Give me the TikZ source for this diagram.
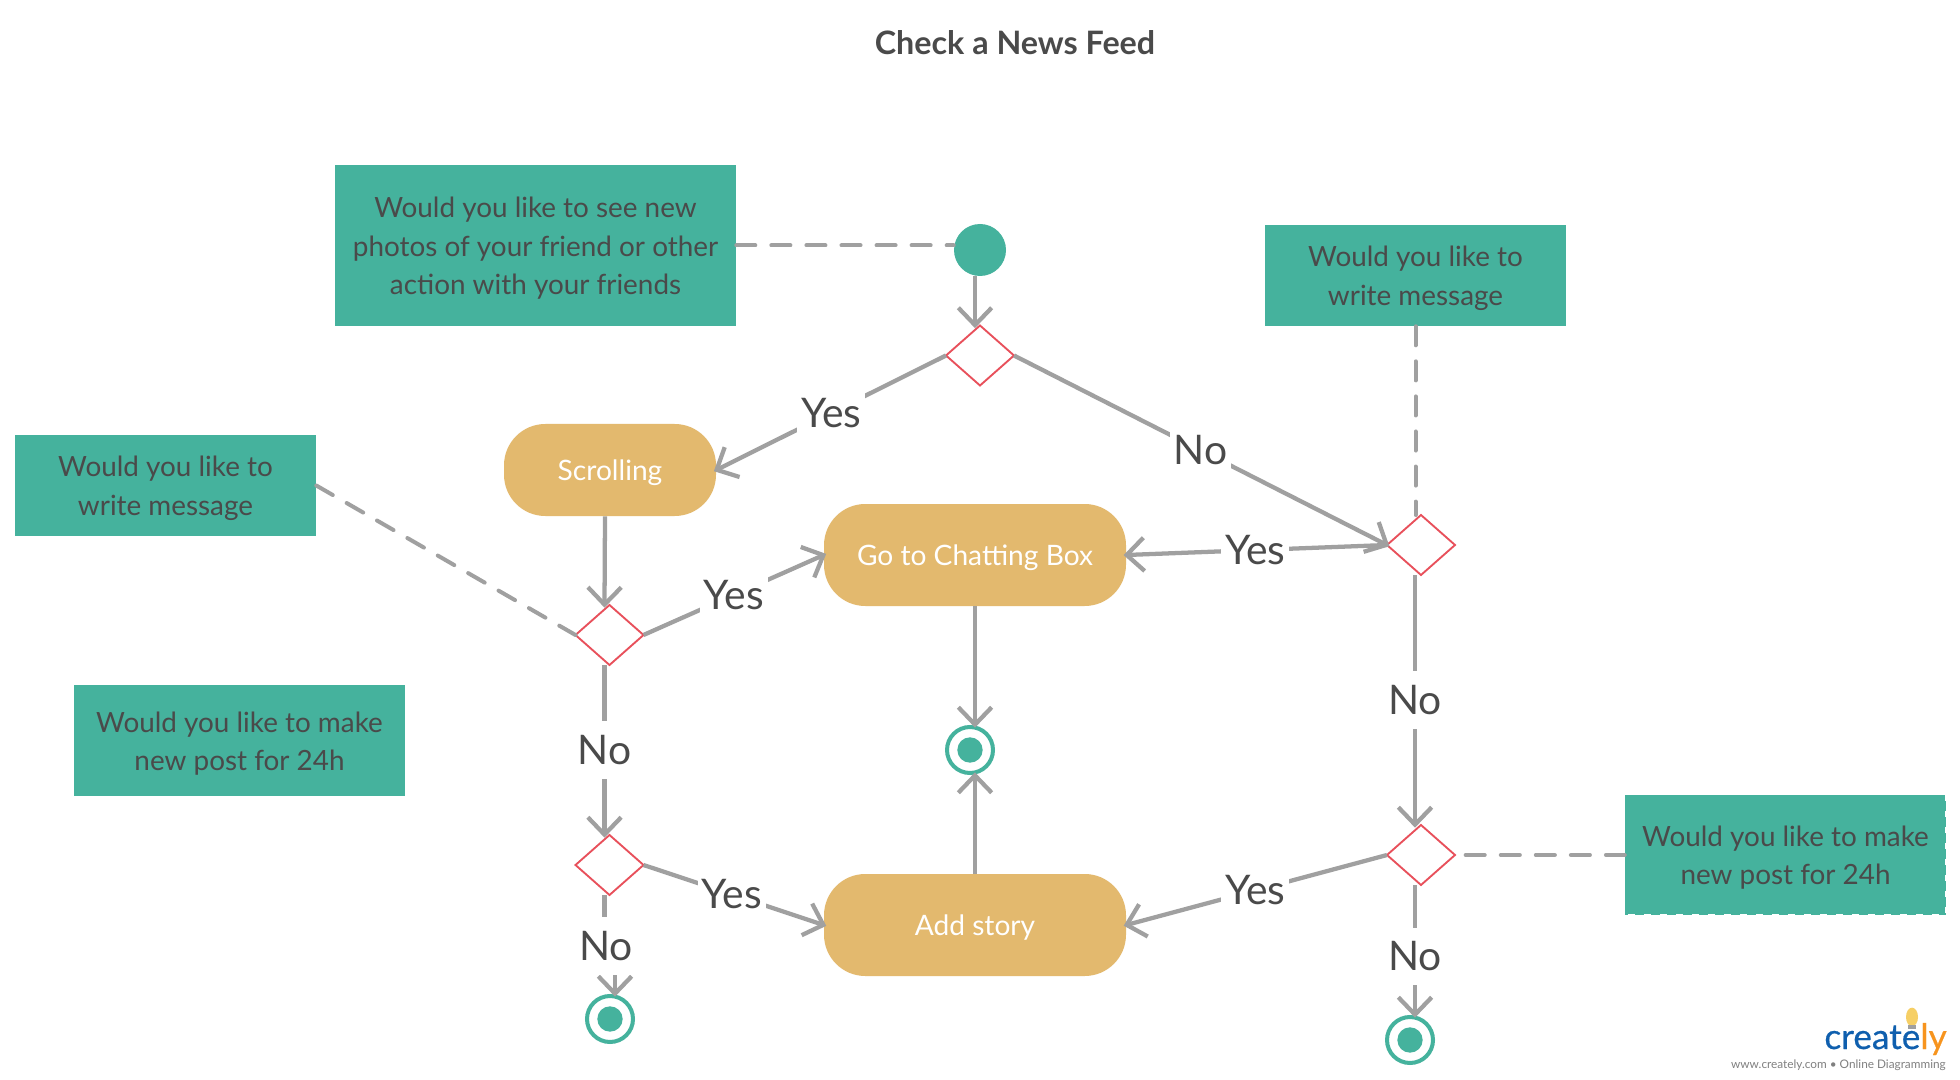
\documentclass[tikz,border=0pt]{standalone}
\usepackage{fontspec}
\setmainfont{Lato}
\newfontfamily\logofont[FakeBold=0.5]{Lato}
\usetikzlibrary{arrows.meta,shapes.geometric}
\definecolor{tealbox}{HTML}{45B29D}
\definecolor{linegray}{HTML}{A0A0A0}
\definecolor{redline}{HTML}{E8505B}
\definecolor{orangebox}{HTML}{E3B96E}
\definecolor{textgray}{HTML}{4A4A4A}
\definecolor{logoblue}{HTML}{0F5FAE}
\definecolor{logoorange}{HTML}{F7941E}
\definecolor{logobulb}{HTML}{F6CF65}
\newcommand{\topstrut}{\rule{0pt}{19.5pt}}
\tikzset{
    >={Straight Barb[length=13pt,width=25pt]},
    note/.style={
        rectangle,
        fill=tealbox,
        text=textgray,
        align=center,
        inner sep=0pt,
        font=\fontsize{20.9}{28.6}\selectfont
    },
    activity/.style={
        rectangle,
        rounded corners=31pt,
        fill=orangebox,
        text=white,
        align=center,
        inner sep=0pt,
        font=\fontsize{21.1}{24}\selectfont
    },
    choice/.style={
        diamond,
        draw=redline,
        line width=1.4pt,
        fill=white,
        inner sep=0pt,
        outer sep=0pt,
        minimum width=51pt,
        minimum height=45pt
    },
    startdot/.style={
        circle,
        fill=tealbox,
        inner sep=0pt,
        minimum size=39pt
    },
    finish/.style={
        circle,
        draw=tealbox,
        line width=3pt,
        fill=white,
        inner sep=0pt,
        minimum size=34.5pt,
        path picture={\fill[tealbox] (path picture bounding box.center) circle (9.5pt);}
    },
    plainline/.style={draw=linegray, line width=3.2pt},
    line/.style={plainline, ->, shorten >=-2pt},
    link/.style={draw=linegray, line width=3pt, line cap=round,
        dash pattern=on 14.3pt off 12pt},
    answertext/.style={
        fill=white,
        text=textgray,
        inner xsep=3pt,
        inner ysep=0pt,
        minimum height=43pt,
        font=\fontsize{30.6}{32}\selectfont
    },
    answer/.style={answertext, midway}
}
\begin{document}
\begin{tikzpicture}[x=0.75pt,y=-0.75pt]
    \useasboundingbox[fill=white] (0,0) rectangle (1960,1080);

    \node[text=textgray,font=\fontsize{24.2}{28}\selectfont\bfseries] (title) at (1015,43) {Check a News Feed};

    % notes
    \node[note,minimum width=300.75pt,minimum height=120.75pt] (noteFriends) at (535.5,245.5)
        {\topstrut Would you like to see new\\photos of your friend or other\\action with your friends};
    \node[note,minimum width=225.75pt,minimum height=75.75pt] (noteRight) at (1415.5,275.5)
        {\topstrut Would you like to\\write message};
    \node[note,minimum width=225.75pt,minimum height=75.75pt] (noteLeft) at (165.5,485.5)
        {\topstrut Would you like to\\write message};
    \node[note,minimum width=248.25pt,minimum height=83.25pt] (notePost) at (239.5,740.5)
        {\topstrut Would you like to make\\new post for 24h};
    \node[note,minimum width=240.75pt,minimum height=90pt] (notePostRight) at (1785.5,855)
        {\topstrut Would you like to make\\new post for 24h};
    \draw[white,line width=2pt,dash pattern=on 5pt off 7pt] (notePostRight.north east)
        -- (notePostRight.south east) -- (notePostRight.south west);

    % activities
    \node[activity,minimum width=159pt,minimum height=69pt] (scrolling) at (610,470) {\topstrut Scrolling};
    \node[activity,minimum width=226.5pt,minimum height=76.5pt] (chatting) at (975,555) {\topstrut Go to Chatting Box};
    \node[activity,minimum width=226.5pt,minimum height=76.5pt] (story) at (975,925) {\topstrut Add story};

    % decisions
    \node[choice] (top) at (980,355.5) {};
    \node[choice] (leftUp) at (609.5,635) {};
    \node[choice] (leftDown) at (609.5,865) {};
    \node[choice] (rightUp) at (1421,545) {};
    \node[choice] (rightDown) at (1421,855) {};

    % start and ends
    \node[startdot] (start) at (980,250) {};
    \node[finish] (endMiddle) at (970,750) {};
    \node[finish] (endLeft) at (610,1019) {};
    \node[finish] (endRight) at (1410,1040) {};

    % flow
    \draw[line] ([xshift=-3.75pt]start.south) -- ([xshift=-3.75pt]top.north);
    \draw[line] (top.west) -- node[answer] (yesTop) {Yes} (scrolling.east);
    \draw[line] (top.east) -- node[answer] (noTop) {No} (rightUp.west);
    \draw[line] (rightUp.west) -- node[answer,pos=.505] (yesRight) {Yes} (chatting.east);
    \draw[line] ([xshift=-3.75pt]scrolling.south) -- ([xshift=-3.75pt]leftUp.north);
    \draw[line] (leftUp.east) -- node[answer] (yesLeft) {Yes} (chatting.west);
    \draw[line] ([xshift=-3.75pt]leftUp.south) -- node[answer] (noLeft) {No} ([xshift=-3.75pt]leftDown.north);
    \draw[line] (leftDown.east) -- node[answer,pos=.49] (yesDown) {Yes} (story.west);
    \coordinate (noDownAt) at (606,946);
    \draw[plainline] ([xshift=-3.75pt]leftDown.south) -- ([xshift=-3.75pt]leftDown.south |- noDownAt);
    \draw[line] ([xshift=3.75pt]endLeft.north |- noDownAt) -- ([xshift=3.75pt]endLeft.north);
    \node[answertext] (noDown) at (noDownAt) {No};
    \draw[line] (chatting.south) -- (endMiddle.north -| chatting.south);
    \draw[line] (story.north) -- (endMiddle.south -| story.north);
    \draw[line] ([xshift=-4.5pt]rightUp.south) -- node[answer] (noRight) {No} ([xshift=-4.5pt]rightDown.north);
    \draw[line] (rightDown.west) -- node[answer,pos=.505] (yesRightDown) {Yes} (story.east);
    \draw[line] ([xshift=-4.5pt]rightDown.south) -- node[answer,pos=.55] (noRightDown) {No} ([xshift=3.75pt]endRight.north);

    % dashed links
    \draw[link] (noteFriends.east) -- (noteFriends.east -| start.west);
    \draw[link] (noteRight.south) -- (noteRight.south |- rightUp.north);
    \draw[link] (noteLeft.east) -- (leftUp.west);
    \draw[link,shorten <=8pt] (rightDown.east) -- (notePostRight.west);

    % logo
    \fill[logobulb] (1912,1017) ellipse (4.5pt and 7pt);
    \fill[linegray] (1908,1025) rectangle (1916,1029);
    \node[anchor=base east,inner sep=0pt,font=\fontsize{26.4}{31}\logofont] (logo) at (1947,1049)
        {\textcolor{logoblue}{create}\textcolor{logoorange}{ly}};
    \node[anchor=base east,inner sep=0pt,text=gray,font=\fontsize{8.85}{11}\selectfont] (logoline) at (1946,1068)
        {www.creately.com • Online Diagramming};
\end{tikzpicture}
\end{document}
